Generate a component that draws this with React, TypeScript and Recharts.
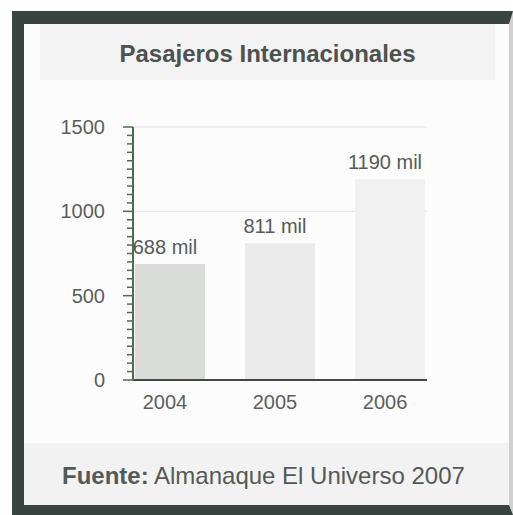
import { Bar, BarChart, CartesianGrid, Cell, LabelList, XAxis, YAxis } from "recharts";

const years = [2004, 2005, 2006];
const passengers = [688, 811, 1190];
const barLabels = ["688 mil", "811 mil", "1190 mil"];
const barColors = ["#d9dcd9", "#ebebeb", "#f0f0f0"];
const majorTicks = [0, 500, 1000, 1500];
const gridValues = [1000, 1500];

// minor ticks every 50 between the labelled ones
const yTicks = Array.from({ length: 31 }, (_, i) => i * 50);

const data = years.map((year, i) => ({
  year,
  value: passengers[i],
  label: barLabels[i],
}));

const FONT = "'Liberation Sans', Arial, Helvetica, sans-serif";

function YTick(props: any) {
  const { x, y, payload } = props;
  const major = majorTicks.includes(payload.value);
  return (
    <g>
      <line x1={x - (major ? 10 : 6)} x2={x} y1={y} y2={y} stroke="#4f6b4f" strokeWidth={1.5} />
      {major && (
        <text x={x - 28} y={y + 7} textAnchor="end" fontSize={20} fill="#5a5f5c" fontFamily={FONT}>
          {payload.value}
        </text>
      )}
    </g>
  );
}

function BarLabel(props: any) {
  const { x, y, width, value } = props;
  return (
    <text x={x + width / 2 - 5} y={y - 10} textAnchor="middle" fontSize={20} fill="#555a57" fontFamily={FONT}>
      {value}
    </text>
  );
}

export default function App() {
  return (
    <div style={{ position: "absolute", left: 0, top: 0, width: 513, height: 515, background: "#ffffff", overflow: "hidden" }}>
      <div
        style={{
          position: "absolute",
          left: 12,
          top: 11,
          width: 501,
          height: 504,
          boxSizing: "border-box",
          borderTop: "13px solid #38443f",
          borderLeft: "12px solid #38443f",
          borderBottom: "10px solid #38443f",
          borderRight: "4px solid #d0d0d0",
          background: "#fcfcfc",
        }}
      />
      <div style={{ position: "absolute", left: 40, top: 24, width: 455, height: 56, background: "#f3f3f3" }} />
      <div style={{ position: "absolute", left: 24, top: 443, width: 485, height: 62, background: "#f2f2f2" }} />
      <div
        style={{
          position: "absolute",
          left: 0,
          width: 535,
          top: 40,
          textAlign: "center",
          fontFamily: FONT,
          fontWeight: "bold",
          fontSize: 24,
          color: "#4d524f",
        }}
      >
        Pasajeros Internacionales
      </div>
      <div
        style={{
          position: "absolute",
          left: 62,
          top: 462,
          fontFamily: FONT,
          fontSize: 24,
          color: "#545a56",
          whiteSpace: "nowrap",
        }}
      >
        <b>Fuente:</b> Almanaque El Universo 2007
      </div>
      <div style={{ position: "absolute", left: 0, top: 0 }}>
        <BarChart width={513} height={515} data={data} margin={{ top: 127, right: 86, bottom: 95, left: 0 }}>
          <CartesianGrid vertical={false} horizontalValues={gridValues} stroke="#e2e2e2" />
          <XAxis
            dataKey="year"
            type="number"
            domain={[2003.664, 2006.336]}
            ticks={years}
            allowDataOverflow
            height={40}
            tickLine={false}
            tickMargin={9}
            axisLine={{ stroke: "#3f4a44", strokeWidth: 2 }}
            tick={{ fontSize: 20, fill: "#5a5f5c", fontFamily: FONT, dx: -5 }}
          />
          <YAxis
            width={133}
            domain={[0, 1500]}
            ticks={yTicks}
            interval={0}
            tickSize={0}
            tickMargin={0}
            tickLine={false}
            axisLine={{ stroke: "#4f6b4f", strokeWidth: 2 }}
            tick={<YTick />}
          />
          <Bar dataKey="value" barSize={70} isAnimationActive={false}>
            {data.map((d, i) => (
              <Cell key={d.year} fill={barColors[i]} />
            ))}
            <LabelList dataKey="label" content={<BarLabel />} />
          </Bar>
        </BarChart>
      </div>
    </div>
  );
}
